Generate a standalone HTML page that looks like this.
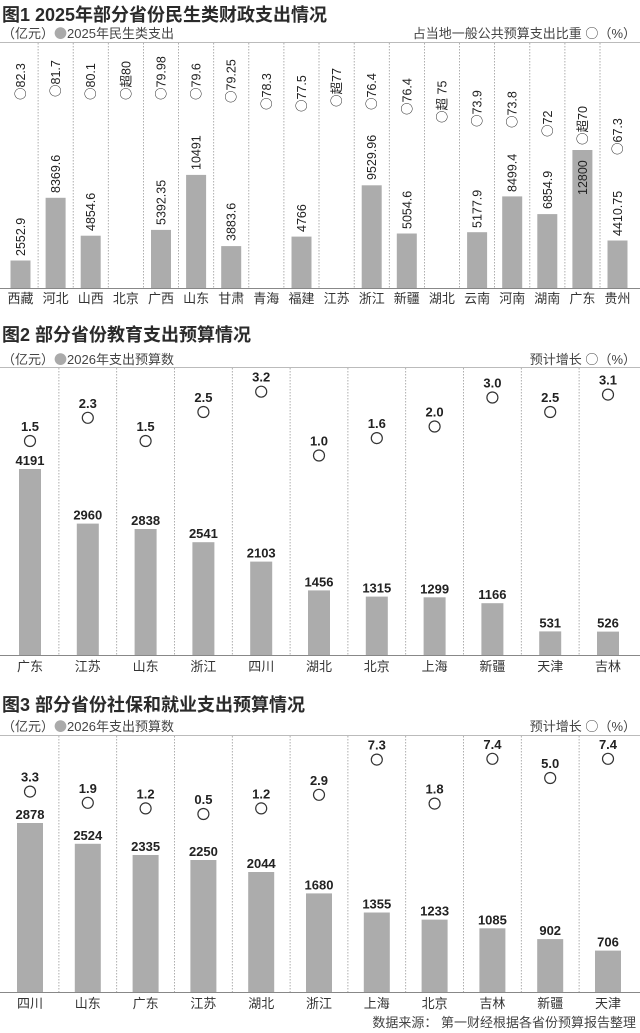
<!DOCTYPE html>
<html><head><meta charset="utf-8"><style>
html,body{margin:0;padding:0;background:#fff;}
svg{display:block;font-family:"Liberation Sans","Noto Sans CJK SC",sans-serif;}
.t{font-size:18px;font-weight:bold;fill:#2a2a2a;}
.lg{font-size:13px;fill:#444;}
.cat{font-size:13px;fill:#333;text-anchor:middle;}
.v{font-size:12.5px;fill:#222;}
.b2{font-size:13px;font-weight:bold;fill:#222;text-anchor:middle;}
.p{font-size:13px;font-weight:bold;fill:#222;text-anchor:middle;}
.sep{stroke:#999;stroke-width:0.8;stroke-dasharray:1.5,1.5;}
.bar{fill:#acacac;}
.ci{fill:#fff;stroke:#333;stroke-width:1.2;}
.o{font-family:"Noto Sans CJK SC",sans-serif;}
</style></head><body>
<svg width="640" height="1033" viewBox="0 0 640 1033">
<!-- Chart 1 -->
<text class="t" x="2" y="21">图1 2025年部分省份民生类财政支出情况</text>
<text class="lg" x="2" y="38">（亿元）<tspan class="o" fill="#aaa">●</tspan>2025年民生类支出</text>
<text class="lg" x="636" y="38" text-anchor="end">占当地一般公共预算支出比重 <tspan class="o">○</tspan>（%）</text>
<line x1="0" y1="42.5" x2="640" y2="42.5" stroke="#bbb" stroke-width="1"/>
<g class="sep">
<line x1="38.1" y1="43" x2="38.1" y2="288"/><line x1="73.2" y1="43" x2="73.2" y2="288"/><line x1="108.3" y1="43" x2="108.3" y2="288"/><line x1="143.4" y1="43" x2="143.4" y2="288"/><line x1="178.6" y1="43" x2="178.6" y2="288"/><line x1="213.7" y1="43" x2="213.7" y2="288"/><line x1="248.8" y1="43" x2="248.8" y2="288"/><line x1="283.9" y1="43" x2="283.9" y2="288"/><line x1="319" y1="43" x2="319" y2="288"/><line x1="354.2" y1="43" x2="354.2" y2="288"/><line x1="389.3" y1="43" x2="389.3" y2="288"/><line x1="424.4" y1="43" x2="424.4" y2="288"/><line x1="459.5" y1="43" x2="459.5" y2="288"/><line x1="494.6" y1="43" x2="494.6" y2="288"/><line x1="529.8" y1="43" x2="529.8" y2="288"/><line x1="564.9" y1="43" x2="564.9" y2="288"/><line x1="600" y1="43" x2="600" y2="288"/>
</g>
<g class="bar">
<rect x="10.5" y="260.5" width="20" height="27.5"/>
<rect x="45.6" y="197.8" width="20" height="90.2"/>
<rect x="80.7" y="235.7" width="20" height="52.3"/>
<rect x="151" y="229.9" width="20" height="58.1"/>
<rect x="186.1" y="174.9" width="20" height="113.1"/>
<rect x="221.2" y="246.1" width="20" height="41.9"/>
<rect x="291.5" y="236.6" width="20" height="51.4"/>
<rect x="361.7" y="185.3" width="20" height="102.7"/>
<rect x="396.8" y="233.5" width="20" height="54.5"/>
<rect x="467.1" y="232.2" width="20" height="55.8"/>
<rect x="502.2" y="196.4" width="20" height="91.6"/>
<rect x="537.3" y="214.1" width="20" height="73.9"/>
<rect x="572.4" y="150" width="20" height="138"/>
<rect x="607.5" y="240.5" width="20" height="47.5"/>
</g>
<line x1="0" y1="288.5" x2="640" y2="288.5" stroke="#888" stroke-width="1"/>
<g class="v">
<text transform="translate(25,256) rotate(-90)">2552.9</text>
<text transform="translate(60.1,193) rotate(-90)">8369.6</text>
<text transform="translate(95.2,231) rotate(-90)">4854.6</text>
<text transform="translate(165.5,225) rotate(-90)">5392.35</text>
<text transform="translate(200.6,170) rotate(-90)">10491</text>
<text transform="translate(235.7,241) rotate(-90)">3883.6</text>
<text transform="translate(306,232) rotate(-90)">4766</text>
<text transform="translate(376.2,180) rotate(-90)">9529.96</text>
<text transform="translate(411.3,229) rotate(-90)">5054.6</text>
<text transform="translate(481.6,228) rotate(-90)">5177.9</text>
<text transform="translate(516.7,192) rotate(-90)">8499.4</text>
<text transform="translate(551.8,209) rotate(-90)">6854.9</text>
<text transform="translate(586.9,195) rotate(-90)">12800</text>
<text transform="translate(622,236) rotate(-90)">4410.75</text>
</g>
<g class="v">
<text transform="translate(25,100) rotate(-90)"><tspan class="o">○</tspan>82.3</text>
<text transform="translate(60.1,97) rotate(-90)"><tspan class="o">○</tspan>81.7</text>
<text transform="translate(95.2,100) rotate(-90)"><tspan class="o">○</tspan>80.1</text>
<text transform="translate(130.4,100) rotate(-90)"><tspan class="o">○</tspan>超80</text>
<text transform="translate(165.5,100) rotate(-90)"><tspan class="o">○</tspan>79.98</text>
<text transform="translate(200.6,100) rotate(-90)"><tspan class="o">○</tspan>79.6</text>
<text transform="translate(235.7,103) rotate(-90)"><tspan class="o">○</tspan>79.25</text>
<text transform="translate(270.8,110) rotate(-90)"><tspan class="o">○</tspan>78.3</text>
<text transform="translate(306,112) rotate(-90)"><tspan class="o">○</tspan>77.5</text>
<text transform="translate(341.1,107) rotate(-90)"><tspan class="o">○</tspan>超77</text>
<text transform="translate(376.2,110) rotate(-90)"><tspan class="o">○</tspan>76.4</text>
<text transform="translate(411.3,115) rotate(-90)"><tspan class="o">○</tspan>76.4</text>
<text transform="translate(446.4,123) rotate(-90)"><tspan class="o">○</tspan>超 75</text>
<text transform="translate(481.6,127) rotate(-90)"><tspan class="o">○</tspan>73.9</text>
<text transform="translate(516.7,128) rotate(-90)"><tspan class="o">○</tspan>73.8</text>
<text transform="translate(551.8,137) rotate(-90)"><tspan class="o">○</tspan>72</text>
<text transform="translate(586.9,145) rotate(-90)"><tspan class="o">○</tspan>超70</text>
<text transform="translate(622,155) rotate(-90)"><tspan class="o">○</tspan>67.3</text>
</g>
<g class="cat">
<text x="20.5" y="303">西藏</text><text x="55.6" y="303">河北</text><text x="90.7" y="303">山西</text><text x="125.9" y="303">北京</text><text x="161" y="303">广西</text><text x="196.1" y="303">山东</text><text x="231.2" y="303">甘肃</text><text x="266.3" y="303">青海</text><text x="301.5" y="303">福建</text><text x="336.6" y="303">江苏</text><text x="371.7" y="303">浙江</text><text x="406.8" y="303">新疆</text><text x="441.9" y="303">湖北</text><text x="477.1" y="303">云南</text><text x="512.2" y="303">河南</text><text x="547.3" y="303">湖南</text><text x="582.4" y="303">广东</text><text x="617.5" y="303">贵州</text>
</g>

<!-- Chart 2 -->
<text class="t" x="2" y="341">图2 部分省份教育支出预算情况</text>
<text class="lg" x="2" y="364">（亿元）<tspan class="o" fill="#aaa">●</tspan>2026年支出预算数</text>
<text class="lg" x="636" y="364" text-anchor="end">预计增长 <tspan class="o">○</tspan>（%）</text>
<line x1="0" y1="367.5" x2="640" y2="367.5" stroke="#bbb" stroke-width="1"/>
<g class="sep">
<line x1="58.9" y1="368" x2="58.9" y2="655"/><line x1="116.7" y1="368" x2="116.7" y2="655"/><line x1="174.5" y1="368" x2="174.5" y2="655"/><line x1="232.3" y1="368" x2="232.3" y2="655"/><line x1="290.1" y1="368" x2="290.1" y2="655"/><line x1="347.9" y1="368" x2="347.9" y2="655"/><line x1="405.7" y1="368" x2="405.7" y2="655"/><line x1="463.5" y1="368" x2="463.5" y2="655"/><line x1="521.3" y1="368" x2="521.3" y2="655"/><line x1="579.1" y1="368" x2="579.1" y2="655"/>
</g>
<g class="bar">
<rect x="19" y="469" width="22" height="186"/>
<rect x="76.8" y="523.6" width="22" height="131.4"/>
<rect x="134.6" y="529" width="22" height="126"/>
<rect x="192.4" y="542.2" width="22" height="112.8"/>
<rect x="250.2" y="561.6" width="22" height="93.4"/>
<rect x="308" y="590.4" width="22" height="64.6"/>
<rect x="365.8" y="596.6" width="22" height="58.4"/>
<rect x="423.6" y="597.3" width="22" height="57.7"/>
<rect x="481.4" y="603.2" width="22" height="51.8"/>
<rect x="539.2" y="631.4" width="22" height="23.6"/>
<rect x="597" y="631.6" width="22" height="23.4"/>
</g>
<line x1="0" y1="655.5" x2="640" y2="655.5" stroke="#888" stroke-width="1"/>
<g class="b2">
<text x="30" y="465">4191</text><text x="87.8" y="519.6">2960</text><text x="145.6" y="525">2838</text><text x="203.4" y="538.2">2541</text><text x="261.2" y="557.6">2103</text><text x="319" y="586.4">1456</text><text x="376.8" y="592.6">1315</text><text x="434.6" y="593.3">1299</text><text x="492.4" y="599.2">1166</text><text x="550.2" y="627.4">531</text><text x="608" y="627.6">526</text>
</g>
<g class="ci">
<circle cx="30" cy="441" r="5.5"/><circle cx="87.8" cy="417.8" r="5.5"/><circle cx="145.6" cy="441" r="5.5"/><circle cx="203.4" cy="412" r="5.5"/><circle cx="261.2" cy="391.7" r="5.5"/><circle cx="319" cy="455.5" r="5.5"/><circle cx="376.8" cy="438.1" r="5.5"/><circle cx="434.6" cy="426.5" r="5.5"/><circle cx="492.4" cy="397.5" r="5.5"/><circle cx="550.2" cy="412" r="5.5"/><circle cx="608" cy="394.6" r="5.5"/>
</g>
<g class="p">
<text x="30" y="431">1.5</text><text x="87.8" y="407.8">2.3</text><text x="145.6" y="431">1.5</text><text x="203.4" y="402">2.5</text><text x="261.2" y="381.7">3.2</text><text x="319" y="445.5">1.0</text><text x="376.8" y="428.1">1.6</text><text x="434.6" y="416.5">2.0</text><text x="492.4" y="387.5">3.0</text><text x="550.2" y="402">2.5</text><text x="608" y="384.6">3.1</text>
</g>
<g class="cat">
<text x="30" y="671">广东</text><text x="87.8" y="671">江苏</text><text x="145.6" y="671">山东</text><text x="203.4" y="671">浙江</text><text x="261.2" y="671">四川</text><text x="319" y="671">湖北</text><text x="376.8" y="671">北京</text><text x="434.6" y="671">上海</text><text x="492.4" y="671">新疆</text><text x="550.2" y="671">天津</text><text x="608" y="671">吉林</text>
</g>

<!-- Chart 3 -->
<text class="t" x="2" y="711">图3 部分省份社保和就业支出预算情况</text>
<text class="lg" x="2" y="731">（亿元）<tspan class="o" fill="#aaa">●</tspan>2026年支出预算数</text>
<text class="lg" x="636" y="731" text-anchor="end">预计增长 <tspan class="o">○</tspan>（%）</text>
<line x1="0" y1="735.5" x2="640" y2="735.5" stroke="#bbb" stroke-width="1"/>
<g class="sep">
<line x1="58.9" y1="736" x2="58.9" y2="992"/><line x1="116.7" y1="736" x2="116.7" y2="992"/><line x1="174.5" y1="736" x2="174.5" y2="992"/><line x1="232.3" y1="736" x2="232.3" y2="992"/><line x1="290.1" y1="736" x2="290.1" y2="992"/><line x1="347.9" y1="736" x2="347.9" y2="992"/><line x1="405.7" y1="736" x2="405.7" y2="992"/><line x1="463.5" y1="736" x2="463.5" y2="992"/><line x1="521.3" y1="736" x2="521.3" y2="992"/><line x1="579.1" y1="736" x2="579.1" y2="992"/>
</g>
<g class="bar">
<rect x="17" y="823" width="26" height="169"/>
<rect x="74.8" y="843.8" width="26" height="148.2"/>
<rect x="132.6" y="855" width="26" height="137"/>
<rect x="190.4" y="860" width="26" height="132"/>
<rect x="248.2" y="872" width="26" height="120"/>
<rect x="306" y="893.4" width="26" height="98.6"/>
<rect x="363.8" y="912.5" width="26" height="79.5"/>
<rect x="421.6" y="919.6" width="26" height="72.4"/>
<rect x="479.4" y="928.3" width="26" height="63.7"/>
<rect x="537.2" y="939.1" width="26" height="52.9"/>
<rect x="595" y="950.6" width="26" height="41.4"/>
</g>
<line x1="0" y1="992.5" x2="640" y2="992.5" stroke="#888" stroke-width="1"/>
<g class="b2">
<text x="30" y="819">2878</text><text x="87.8" y="839.8">2524</text><text x="145.6" y="851">2335</text><text x="203.4" y="856">2250</text><text x="261.2" y="868">2044</text><text x="319" y="889.4">1680</text><text x="376.8" y="908.5">1355</text><text x="434.6" y="915.6">1233</text><text x="492.4" y="924.3">1085</text><text x="550.2" y="935.1">902</text><text x="608" y="946.6">706</text>
</g>
<g class="ci">
<circle cx="30" cy="791.6" r="5.5"/><circle cx="87.8" cy="802.8" r="5.5"/><circle cx="145.6" cy="808.4" r="5.5"/><circle cx="203.4" cy="814" r="5.5"/><circle cx="261.2" cy="808.4" r="5.5"/><circle cx="319" cy="794.8" r="5.5"/><circle cx="376.8" cy="759.6" r="5.5"/><circle cx="434.6" cy="803.6" r="5.5"/><circle cx="492.4" cy="758.8" r="5.5"/><circle cx="550.2" cy="778" r="5.5"/><circle cx="608" cy="758.8" r="5.5"/>
</g>
<g class="p">
<text x="30" y="781.6">3.3</text><text x="87.8" y="792.8">1.9</text><text x="145.6" y="798.4">1.2</text><text x="203.4" y="804">0.5</text><text x="261.2" y="798.4">1.2</text><text x="319" y="784.8">2.9</text><text x="376.8" y="749.6">7.3</text><text x="434.6" y="793.6">1.8</text><text x="492.4" y="748.8">7.4</text><text x="550.2" y="768">5.0</text><text x="608" y="748.8">7.4</text>
</g>
<g class="cat">
<text x="30" y="1008">四川</text><text x="87.8" y="1008">山东</text><text x="145.6" y="1008">广东</text><text x="203.4" y="1008">江苏</text><text x="261.2" y="1008">湖北</text><text x="319" y="1008">浙江</text><text x="376.8" y="1008">上海</text><text x="434.6" y="1008">北京</text><text x="492.4" y="1008">吉林</text><text x="550.2" y="1008">新疆</text><text x="608" y="1008">天津</text>
</g>
<text class="lg" x="636" y="1027" text-anchor="end" fill="#333">数据来源：  第一财经根据各省份预算报告整理</text>
</svg>
</body></html>
